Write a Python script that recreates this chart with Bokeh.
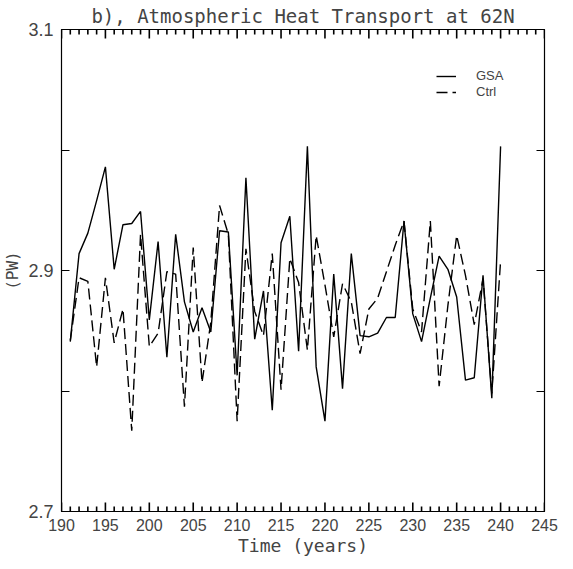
from bokeh.plotting import figure
from bokeh.models import Range1d, LinearAxis, FixedTicker, Legend, LegendItem
from bokeh.embed import file_html
from bokeh.resources import INLINE

years = list(range(191, 241))
gsa = [2.841, 2.914, 2.931, 2.958, 2.986, 2.901, 2.938, 2.939, 2.949, 2.859,
       2.924, 2.828, 2.930, 2.874, 2.849, 2.869, 2.849, 2.933, 2.932, 2.813,
       2.977, 2.843, 2.883, 2.784, 2.923, 2.945, 2.833, 3.003, 2.820, 2.775,
       2.897, 2.802, 2.914, 2.846, 2.845, 2.848, 2.861, 2.861, 2.941, 2.864,
       2.841, 2.877, 2.912, 2.901, 2.878, 2.809, 2.811, 2.896, 2.794, 3.003]
ctrl = [2.842, 2.894, 2.891, 2.820, 2.894, 2.840, 2.868, 2.767, 2.930, 2.837,
        2.848, 2.899, 2.897, 2.787, 2.919, 2.807, 2.857, 2.954, 2.930, 2.775,
        2.918, 2.866, 2.846, 2.914, 2.801, 2.910, 2.890, 2.834, 2.929, 2.888,
        2.845, 2.889, 2.874, 2.831, 2.868, 2.877, 2.899, 2.921, 2.941, 2.868,
        2.849, 2.941, 2.804, 2.871, 2.929, 2.896, 2.855, 2.893, 2.798, 2.908]

x_min, x_max = 190, 245
y_min, y_max = 2.7, 3.1
x_ticks = [190, 195, 200, 205, 210, 215, 220, 225, 230, 235, 240, 245]
x_minor = [v for v in range(190, 246) if v % 5 != 0]
y_ticks = [2.7, 2.8, 2.9, 3.0, 3.1]
y_labels = {2.7: "2.7", 2.8: "", 2.9: "2.9", 3.0: "", 3.1: "3.1"}

title_text = "b), Atmospheric Heat Transport at 62N"
x_label = "Time (years)"
y_label = "(PW)"

FRAME_W, FRAME_H = 483, 482
MAJOR_PX, MINOR_PX = 9, 5
unit_per_px = (y_max - y_min) / FRAME_H

p = figure(frame_width=FRAME_W, frame_height=FRAME_H, output_backend="svg",
           toolbar_location=None,
           x_range=Range1d(x_min, x_max), y_range=Range1d(y_min, y_max),
           min_border_left=57, min_border_right=18, min_border_top=27,
           min_border_bottom=42)
p.title.text = title_text
p.title.align = "center"
p.title.text_font = "DejaVu Sans Mono"
p.title.text_font_size = "19px"
p.title.text_font_style = "normal"
p.title.standoff = 5

p.grid.visible = False
p.outline_line_color = "black"
p.outline_line_width = 1.2
p.background_fill_color = "white"
p.border_fill_color = "white"


def style_axis(ax, show_labels, tin=8):
    ax.axis_line_color = "black"
    ax.major_tick_line_color = "black"
    ax.minor_tick_line_color = "black"
    ax.major_tick_in = tin
    ax.major_tick_out = 0
    ax.minor_tick_in = 0
    ax.minor_tick_out = 0
    if not show_labels:
        ax.major_label_text_font_size = "0px"
        ax.major_label_standoff = 0


xb = p.xaxis[0]
xb.ticker = FixedTicker(ticks=x_ticks, minor_ticks=[])
style_axis(xb, True, tin=0)
xb.major_label_text_font = "Liberation Sans"
xb.major_label_text_font_size = "16px"
xb.major_label_standoff = 7
xb.axis_label = x_label
xb.axis_label_text_font = "DejaVu Sans Mono"
xb.axis_label_text_font_size = "18px"
xb.axis_label_text_font_style = "normal"
xb.axis_label_standoff = 1

yl = p.yaxis[0]
yl.ticker = FixedTicker(ticks=y_ticks, minor_ticks=[])
style_axis(yl, True)
yl.major_label_overrides = y_labels
yl.major_label_text_font = "Liberation Sans"
yl.major_label_text_font_size = "18px"
yl.major_label_standoff = 8
yl.axis_label = y_label
yl.axis_label_text_font = "DejaVu Sans Mono"
yl.axis_label_text_font_size = "16px"
yl.axis_label_text_font_style = "normal"
yl.axis_label_standoff = 3

yr = LinearAxis(ticker=FixedTicker(ticks=y_ticks, minor_ticks=[]))
style_axis(yr, False)
p.add_layout(yr, "right")

# inward tick marks along the top and bottom edges, fully inside the frame
for ticks, npx in ((x_ticks, MAJOR_PX), (x_minor, MINOR_PX)):
    d = npx * unit_per_px
    n = len(ticks)
    p.segment(x0=ticks, y0=[y_max] * n, x1=ticks, y1=[y_max - d] * n,
              line_color="black", line_width=1.6)
    p.segment(x0=ticks, y0=[y_min] * n, x1=ticks, y1=[y_min + d] * n,
              line_color="black", line_width=1.6)

r1 = p.line(years, gsa, line_color="black", line_width=1.4)
r2 = p.line(years, ctrl, line_color="black", line_width=1.4, line_dash="11 5")

legend = Legend(items=[LegendItem(label="GSA", renderers=[r1]),
                       LegendItem(label="Ctrl", renderers=[r2])],
                location=(375, 412), border_line_color=None,
                background_fill_alpha=0, glyph_width=20, glyph_height=12,
                label_height=12, label_standoff=20, padding=0, margin=0,
                spacing=1, label_text_font="Liberation Sans",
                label_text_font_size="13px")
p.add_layout(legend)

open("out.html", "w").write(file_html(p, INLINE))
